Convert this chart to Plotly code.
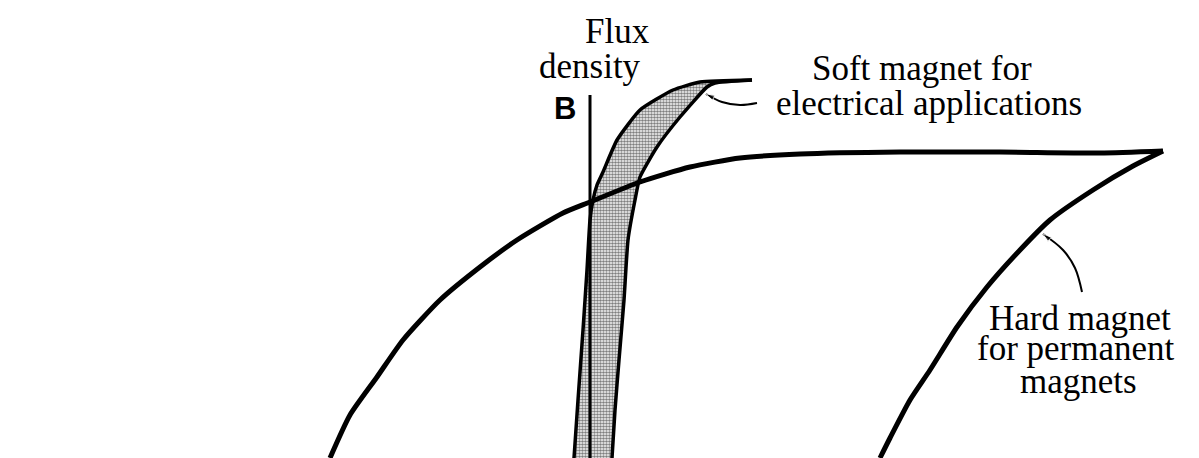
import plotly.graph_objects as go

# Diagram units: H = field strength (relative to B axis), B = flux density
hard_upper_H = [-260, -240, -213, -187, -150, -110, -73, -27, 0, 50, 100, 150, 210, 310, 410, 510, 573]
hard_upper_B = [0, 43, 81, 118, 158, 191, 218, 245, 256, 276, 291, 300, 304, 306, 306, 305, 307]
hard_lower_H = [573, 543, 503, 460, 430, 397, 367, 340, 320, 300, 290]
hard_lower_B = [307, 292, 268, 238, 208, 171, 131, 88, 58, 20, 0]

soft_upper_H = [-16, -12, -7, -3, 0, 3, 7, 13, 27, 50, 83, 110, 162]
soft_upper_B = [0, 58, 128, 188, 238, 258, 273, 286, 318, 348, 368, 376, 378]
soft_lower_H = [162, 125, 117, 90, 67, 50, 45, 38, 34, 29, 25, 22]
soft_lower_B = [378, 375, 371, 341, 311, 281, 258, 218, 158, 98, 48, 0]

axis_H = [0, 0]
axis_B = [0, 363]

soft_leader_H = [167, 150, 132, 116]
soft_leader_B = [355, 353, 356, 364]
hard_leader_H = [492, 485, 473, 453]
hard_leader_B = [166, 190, 208, 224]

fig = go.Figure()

# soft magnet band (filled)
fig.add_trace(go.Scatter(
    x=soft_upper_H + soft_lower_H, y=soft_upper_B + soft_lower_B,
    mode="lines", fill="toself",
    fillcolor="white",
    fillpattern=dict(shape=".", fgcolor="black", bgcolor="white", size=3, solidity=0.6),
    line=dict(color="rgba(0,0,0,0)", width=0, shape="spline", smoothing=0.5),
    hoverinfo="skip", showlegend=False))
fig.add_trace(go.Scatter(x=soft_upper_H, y=soft_upper_B, mode="lines",
                         line=dict(color="black", width=3.5, shape="spline", smoothing=0.5), showlegend=False))
fig.add_trace(go.Scatter(x=soft_lower_H, y=soft_lower_B, mode="lines",
                         line=dict(color="black", width=3.5, shape="spline", smoothing=0.5), showlegend=False))

# B axis
fig.add_trace(go.Scatter(x=axis_H, y=axis_B, mode="lines",
                         line=dict(color="black", width=3), showlegend=False))

# hard magnet loop
fig.add_trace(go.Scatter(x=hard_upper_H, y=hard_upper_B, mode="lines",
                         line=dict(color="black", width=5, shape="spline", smoothing=0.6), showlegend=False))
fig.add_trace(go.Scatter(x=hard_lower_H, y=hard_lower_B, mode="lines",
                         line=dict(color="black", width=5, shape="spline", smoothing=0.6), showlegend=False))

# leaders
for lh, lb in [(soft_leader_H, soft_leader_B), (hard_leader_H, hard_leader_B)]:
    n = len(lh)
    fig.add_trace(go.Scatter(
        x=lh, y=lb, mode="lines+markers",
        line=dict(color="black", width=2, shape="spline"),
        marker=dict(symbol="arrow", angleref="previous", color="black",
                    size=[0] * (n - 1) + [9]),
        showlegend=False))

serif = "Liberation Serif"
texts = [
    ("Flux", 27, 427),
    ("density", 0, 392),
    ("Soft magnet for", 332, 390),
    ("electrical applications", 339, 355),
    ("Hard magnet", 490, 140),
    ("for permanent", 486, 110),
    ("magnets", 488, 77),
]
for t, hx, by in texts:
    fig.add_annotation(x=hx, y=by, text=t, showarrow=False, xanchor="center", yanchor="middle",
                       font=dict(family=serif, size=35, color="black"))
fig.add_annotation(x=-25, y=350, text="<b>B</b>", showarrow=False, xanchor="center", yanchor="middle",
                   font=dict(family="Liberation Sans", size=31, color="black"))

# page has an 8px body margin; shift ranges so the drawing sits where the reference does
fig.update_layout(
    width=1199, height=458,
    margin=dict(l=0, r=0, t=0, b=0),
    paper_bgcolor="white", plot_bgcolor="white",
    xaxis=dict(range=[-582, 617], visible=False, fixedrange=True),
    yaxis=dict(range=[-8, 450], visible=False, fixedrange=True),
    showlegend=False,
)
fig.write_html("out.html")
